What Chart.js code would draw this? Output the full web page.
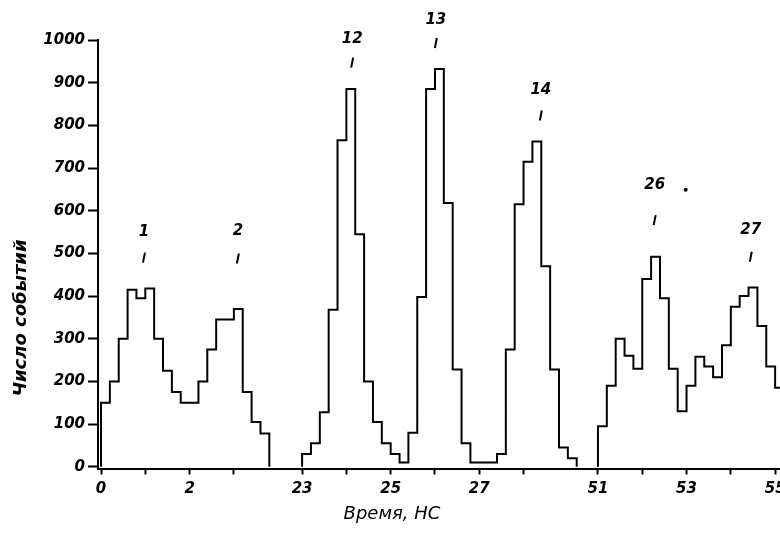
<!DOCTYPE html>
<html>
<head>
<meta charset="utf-8">
<title>Число событий</title>
<script src="https://cdn.jsdelivr.net/npm/chart.js@4/dist/chart.umd.min.js"></script>
<style>
  body { margin: 0; background: #fff; }
  canvas { display: block; }
</style>
</head>
<body>
<canvas id="hist" width="780" height="544"></canvas>
<script>
//DATA

const binWidth = 0.2; // ns
// each group of bins starts at this time (ns), the axis is broken between groups
const groupStarts = [0, 23, 51];
const counts1 = [150, 200, 300, 415, 395, 418, 300, 225, 175, 150, 150, 200, 275, 345, 345, 370, 175, 105, 78];
const counts2 = [30, 55, 128, 368, 765, 885, 545, 200, 105, 55, 30, 10, 80, 398, 885, 932, 618, 228, 55, 10, 10, 10, 30, 275, 615, 715, 762, 470, 228, 45, 20];
const counts3 = [95, 190, 300, 260, 230, 440, 492, 395, 230, 130, 190, 258, 235, 210, 285, 375, 400, 420, 330, 235, 185];

// peak numbers written over the histogram
const peakNames = ['1', '2', '12', '13', '14', '26', '27'];
const peakTimes = [0.97, 3.09, 24.13, 26.02, 28.39, 52.28, 54.45];
const peakTextLevels = [550, 552, 1003, 1046, 883, 661, 555];
const peakMarkLevels = [490, 488, 947, 993, 823, 578, 492];
const dotTime = 52.98;
const dotLevel = 649;

const yTicks = [0, 100, 200, 300, 400, 500, 600, 700, 800, 900, 1000];
const xTicks = [0, 1, 2, 3, 23, 24, 25, 26, 27, 28, 51, 52, 53, 54, 55];
const xLabels = [0, 2, 23, 25, 27, 51, 53, 55];

//AXIS BREAKS

// where each group begins along the drawn axis
const axisStarts = [0, 4.54, 11.22];

function toAxis(t) {
  let g = 0;
  for (let i = 0; i < groupStarts.length; i += 1) {
    if (t >= groupStarts[i] - 1e-9) g = i;
  }
  return t - groupStarts[g] + axisStarts[g];
}

function groupPoints(g, counts) {
  const start = groupStarts[g];
  const pts = [{ x: toAxis(start), y: 0 }];
  for (let i = 0; i < counts.length; i += 1) {
    pts.push({ x: toAxis(start + i * binWidth), y: counts[i] });
  }
  pts.push({ x: toAxis(start + counts.length * binWidth), y: 0 });
  return pts;
}

const tickFont = { family: 'DejaVu Sans', size: 15, style: 'italic', weight: 'bold' };

// 'before' = keep the old level up to the next point, then jump
function histSet(points) {
  return {
    data: points,
    borderColor: '#000',
    borderWidth: 2,
    pointRadius: 0,
    fill: false,
    stepped: 'before'
  };
}

//LABELS AND TITLES

const peakLabels = {
  id: 'peakLabels',
  afterDraw(chart) {
    const ctx = chart.ctx;
    const xs = chart.scales.x;
    const ys = chart.scales.y;
    ctx.save();
    ctx.fillStyle = '#000';
    ctx.strokeStyle = '#000';
    ctx.lineWidth = 2;
    ctx.textAlign = 'center';
    ctx.textBaseline = 'middle';
    ctx.font = 'italic bold 15px "DejaVu Sans"';
    for (let i = 0; i < peakNames.length; i += 1) {
      const px = xs.getPixelForValue(toAxis(peakTimes[i]));
      ctx.fillText(peakNames[i], px, ys.getPixelForValue(peakTextLevels[i]));
      const my = ys.getPixelForValue(peakMarkLevels[i]);
      ctx.beginPath();
      ctx.moveTo(px + 1, my - 5);
      ctx.lineTo(px - 1, my + 5);
      ctx.stroke();
    }
    ctx.beginPath();
    ctx.arc(xs.getPixelForValue(toAxis(dotTime)), ys.getPixelForValue(dotLevel), 2, 0, 2 * Math.PI);
    ctx.fill();

    ctx.font = 'italic 18px "DejaVu Sans"';
    ctx.fillText('Время, НС', 392, 514);

    ctx.translate(21, 318);
    ctx.rotate(-Math.PI / 2);
    ctx.font = 'italic bold 18px "DejaVu Sans"';
    ctx.fillText('Число событий', 0, 0);
    ctx.restore();
  }
};

const hist = new Chart(document.getElementById('hist'), {
  type: 'line',
  data: {
    datasets: [
      histSet(groupPoints(0, counts1)),
      histSet(groupPoints(1, counts2)),
      histSet(groupPoints(2, counts3))
    ]
  },
  options: {
    responsive: false,
    animation: false,
    devicePixelRatio: 1,
    layout: { padding: { top: 40, left: 0, right: 0, bottom: 0 } },
    plugins: {
      legend: { display: false },
      tooltip: { enabled: false }
    },
    scales: {
      x: {
        type: 'linear',
        min: -0.068,
        max: 15.33,
        afterBuildTicks: (scale) => {
          scale.ticks = xTicks.map(t => ({ value: toAxis(t) }));
        },
        afterFit: (scale) => {
          scale.height = 75.5;
          scale.paddingLeft = 0;
          scale.paddingRight = 0;
        },
        border: { display: true, color: '#000', width: 2 },
        grid: { drawOnChartArea: false, drawTicks: true, tickLength: 6, tickWidth: 2, tickColor: '#000' },
        ticks: {
          autoSkip: false,
          maxRotation: 0,
          padding: 6,
          color: '#000',
          font: tickFont,
          callback: (value, index) => (xLabels.includes(xTicks[index]) ? String(xTicks[index]) : '')
        }
      },
      y: {
        min: -4,
        max: 1000,
        afterBuildTicks: (scale) => {
          scale.ticks = yTicks.map(v => ({ value: v }));
        },
        afterFit: (scale) => {
          scale.width = 98;
        },
        border: { display: true, color: '#000', width: 2 },
        grid: { drawOnChartArea: false, drawTicks: true, tickLength: 10, tickWidth: 2, tickColor: '#000' },
        ticks: {
          autoSkip: false,
          padding: 3,
          color: '#000',
          font: tickFont,
          callback: (value) => String(value)
        }
      }
    }
  },
  plugins: [peakLabels]
});
</script>
</body>
</html>
